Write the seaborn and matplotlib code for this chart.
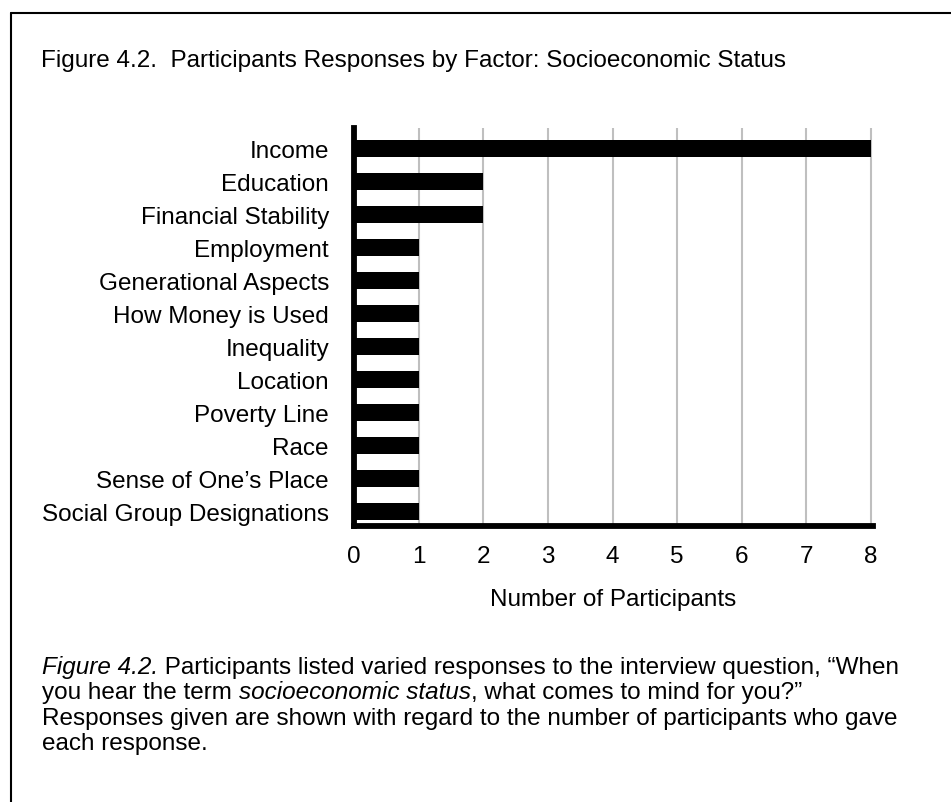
import matplotlib
matplotlib.use("Agg")
import matplotlib.pyplot as plt
import seaborn as sns
import pandas as pd
from matplotlib.lines import Line2D

# ---- data ----
categories = [
    "Income",
    "Education",
    "Financial Stability",
    "Employment",
    "Generational Aspects",
    "How Money is Used",
    "Inequality",
    "Location",
    "Poverty Line",
    "Race",
    "Sense of One\u2019s Place",
    "Social Group Designations",
]
participants = [8, 2, 2, 1, 1, 1, 1, 1, 1, 1, 1, 1]
x_ticks = [0, 1, 2, 3, 4, 5, 6, 7, 8]
title_text = "Figure 4.2.  Participants Responses by Factor: Socioeconomic Status"
x_label = "Number of Participants"
caption_lines = [
    [("Figure 4.2.", True),
     (" Participants listed varied responses to the interview question, \u201cWhen", False)],
    [("you hear the term ", False), ("socioeconomic status", True),
     (", what comes to mind for you?\u201d", False)],
    [("Responses given are shown with regard to the number of participants who gave", False)],
    [("each response.", False)],
]

# ---- style ----
sns.set_theme(style="white")
plt.rcParams["font.family"] = ["Liberation Sans", "DejaVu Sans"]

W, H = 951, 803
fig = plt.figure(figsize=(W / 100, H / 100), dpi=100)
fig.patch.set_facecolor("white")

ax = fig.add_axes([354 / W, 1 - 527 / H, 519 / W, 398 / H])
df = pd.DataFrame({"factor": categories, "n": participants})
sns.barplot(data=df, x="n", y="factor", order=categories, color="black",
            width=0.52, orient="h", saturation=1, linewidth=0, ax=ax)

ax.set_xlim(0, 8.03)
ax.set_ylim(11.44, -0.62)
ax.set_xticks(x_ticks)
ax.set_xticklabels([str(t) for t in x_ticks])
ax.xaxis.grid(True, color="#bfbfbf", linewidth=1.5)
ax.yaxis.grid(False)
ax.set_axisbelow(True)
for s in ["top", "right"]:
    ax.spines[s].set_visible(False)
for s in ["left", "bottom"]:
    ax.spines[s].set_color("black")
    ax.spines[s].set_linewidth(4.2)
ax.tick_params(axis="both", length=0, labelsize=17.5, colors="black")
ax.tick_params(axis="y", pad=18)
ax.tick_params(axis="x", pad=13.5)
ax.set_xlabel(x_label, fontsize=17.5, labelpad=15, color="black")
ax.set_ylabel("")

# title
fig.text(41 / W, 1 - 61 / H, title_text, fontsize=17.5, ha="left", va="center",
         color="black")

# caption with mixed italic
renderer = fig.canvas.get_renderer()
line_y = [668, 693, 719, 744]
for segs, yy in zip(caption_lines, line_y):
    xpix = 42
    for seg, ital in segs:
        t = fig.text(xpix / W, 1 - yy / H, seg, fontsize=17.5, ha="left",
                     va="center", color="black",
                     fontstyle="italic" if ital else "normal")
        bb = t.get_window_extent(renderer)
        xpix = bb.x1

# border
fig.add_artist(Line2D([11 / W, 11 / W], [0, 1 - 14 / H], transform=fig.transFigure,
                      color="black", lw=1.5))
fig.add_artist(Line2D([11 / W, 1], [1 - 14 / H, 1 - 14 / H], transform=fig.transFigure,
                      color="black", lw=1.5))

fig.savefig("out.png", dpi=100)
